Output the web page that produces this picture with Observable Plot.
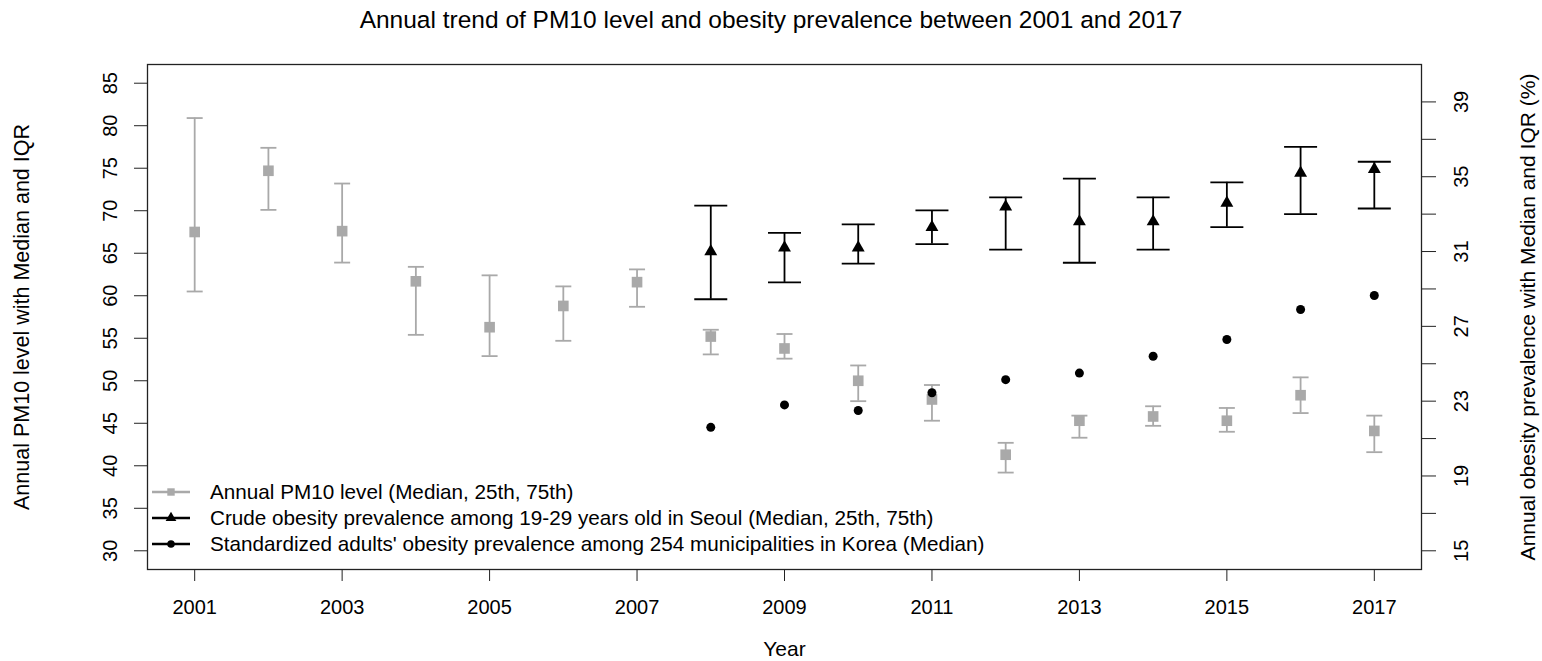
<!DOCTYPE html>
<html>
<head>
<meta charset="utf-8">
<script src="https://cdn.jsdelivr.net/npm/d3@7"></script>
<script src="https://cdn.jsdelivr.net/npm/@observablehq/plot@0.6"></script>
<style>
  body { margin: 0; background: #fff; font-family: "Liberation Sans", Arial, sans-serif; }
  #wrap { position: relative; width: 1542px; height: 661px; }
  #title { height: 40px; line-height: 40px; text-align: center; font-size: 24.5px; color: #000; white-space: nowrap; }
  #legend { position: absolute; left: 140px; top: 478px; }
</style>
</head>
<body>
<div id="wrap">
  <div id="title">Annual trend of PM10 level and obesity prevalence between 2001 and 2017</div>
  <div id="chart"></div>
  <div id="legend"></div>
</div>
<script>
// ---- data ----
const years = [2001, 2002, 2003, 2004, 2005, 2006, 2007, 2008, 2009, 2010, 2011, 2012, 2013, 2014, 2015, 2016, 2017];
const pm10Median = [67.5, 74.7, 67.6, 61.7, 56.3, 58.8, 61.6, 55.2, 53.8, 50.0, 47.8, 41.3, 45.3, 45.8, 45.3, 48.3, 44.1];
const pm10P75    = [80.9, 77.4, 73.2, 63.4, 62.4, 61.1, 63.1, 56.0, 55.5, 51.8, 49.5, 42.7, 45.9, 47.0, 46.8, 50.4, 45.9];
const pm10P25    = [60.5, 70.1, 63.9, 55.4, 52.9, 54.7, 58.7, 53.1, 52.6, 47.6, 45.3, 39.2, 43.3, 44.7, 44.0, 46.2, 41.6];

const obesityYears = [2008, 2009, 2010, 2011, 2012, 2013, 2014, 2015, 2016, 2017];
const crudeMedian = [31.0, 31.2, 31.2, 32.3, 33.4, 32.6, 32.6, 33.6, 35.2, 35.4];
const crudeP75    = [33.45, 32.0, 32.45, 33.2, 33.9, 34.9, 33.9, 34.7, 36.6, 35.8];
const crudeP25    = [28.45, 29.35, 30.35, 31.4, 31.1, 30.4, 31.1, 32.3, 33.0, 33.3];
const standardizedMedian = [21.6, 22.8, 22.5, 23.45, 24.15, 24.5, 25.4, 26.3, 27.9, 28.65];

const xTicks = [2001, 2003, 2005, 2007, 2009, 2011, 2013, 2015, 2017];
const leftTicks = [30, 35, 40, 45, 50, 55, 60, 65, 70, 75, 80, 85];
const rightTicks = [15, 17, 19, 21, 23, 25, 27, 29, 31, 33, 35, 37, 39];
const rightLabels = [15, 19, 23, 27, 31, 35, 39];

const legendLabels = [
  "Annual PM10 level (Median, 25th, 75th)",
  "Crude obesity prevalence among 19-29 years old in Seoul (Median, 25th, 75th)",
  "Standardized adults' obesity prevalence among 254 municipalities in Korea (Median)"
];

// ---- axis ranges (R style: 4% padding) ----
const leftRange = [30, 85];
const rightRange = [15, 40];
const pad = (r) => [r[0] - 0.04 * (r[1] - r[0]), r[1] + 0.04 * (r[1] - r[0])];
const xRange = [2001, 2017];
// map right-axis values onto the left scale
const k = (leftRange[1] - leftRange[0]) / (rightRange[1] - rightRange[0]);
const toLeft = (v) => leftRange[0] + (v - rightRange[0]) * k;
const fromLeft = (v) => rightRange[0] + (v - leftRange[0]) / k;

const gray = "#A9A9A9";
const black = "#000000";

const pm10 = years.map((year, i) => ({year, med: pm10Median[i], lo: pm10P25[i], hi: pm10P75[i]}));
const crude = obesityYears.map((year, i) => ({year, med: toLeft(crudeMedian[i]), lo: toLeft(crudeP25[i]), hi: toLeft(crudeP75[i])}));
const stdz = obesityYears.map((year, i) => ({year, med: toLeft(standardizedMedian[i])}));

const cap = { draw(ctx, size) { const h = Math.sqrt(size / Math.PI); ctx.moveTo(-h, 0); ctx.lineTo(h, 0); } };

const chart = Plot.plot({
  width: 1542,
  height: 621,
  marginTop: 24,
  marginBottom: 92,
  marginLeft: 147,
  marginRight: 121,
  style: { fontFamily: '"Liberation Sans", Arial, sans-serif', fontSize: "20px", color: "#000", background: "#fff" },
  x: { domain: pad(xRange) },
  y: { domain: pad(leftRange) },
  marks: [
    Plot.frame({ stroke: "#222", strokeWidth: 1.3 }),
    Plot.axisX(xTicks, { tickSize: 12, tickPadding: 18, tickFormat: "d", label: null, stroke: "#222" }),
    Plot.axisY(leftTicks, { anchor: "left", tickSize: 13, tickPadding: 18, tickRotate: -90, label: null, stroke: "#222" }),
    Plot.axisY(rightTicks.map(toLeft), {
      anchor: "right", tickSize: 14, tickPadding: 18, tickRotate: -90, lineAnchor: "top", label: null, stroke: "#222",
      tickFormat: (d) => { const v = Math.round(fromLeft(d)); return rightLabels.includes(v) ? String(v) : ""; }
    }),
    Plot.text(["Year"], { frameAnchor: "bottom", dy: 72, lineAnchor: "top", textAnchor: "middle", fontSize: 21 }),
    Plot.text(["Annual PM10 level with Median and IQR"], { frameAnchor: "left", dx: -125, rotate: -90, textAnchor: "middle", lineAnchor: "middle", fontSize: 21.5 }),
    Plot.text(["Annual obesity prevalence with Median and IQR (%)"], { frameAnchor: "right", dx: 107, rotate: -90, textAnchor: "middle", lineAnchor: "middle", fontSize: 21 }),

    // PM10 (gray)
    Plot.ruleX(pm10, { x: "year", y1: "lo", y2: "hi", stroke: gray, strokeWidth: 1.8 }),
    Plot.dot(pm10, { x: "year", y: "lo", symbol: cap, r: 8, stroke: gray, strokeWidth: 1.8, fill: "none" }),
    Plot.dot(pm10, { x: "year", y: "hi", symbol: cap, r: 8, stroke: gray, strokeWidth: 1.8, fill: "none" }),
    Plot.dot(pm10, { x: "year", y: "med", symbol: "square", r: 6, fill: gray, stroke: "none" }),

    // Crude obesity (black, triangles)
    Plot.ruleX(crude, { x: "year", y1: "lo", y2: "hi", stroke: black, strokeWidth: 1.8 }),
    Plot.dot(crude, { x: "year", y: "lo", symbol: cap, r: 16.5, stroke: black, strokeWidth: 1.8, fill: "none" }),
    Plot.dot(crude, { x: "year", y: "hi", symbol: cap, r: 16.5, stroke: black, strokeWidth: 1.8, fill: "none" }),
    Plot.dot(crude, { x: "year", y: "med", symbol: "triangle", r: 4.8, fill: black, stroke: "none" }),

    // Standardized obesity (black dots)
    Plot.dot(stdz, { x: "year", y: "med", r: 4.5, fill: black, stroke: "none" })
  ]
});
document.getElementById("chart").appendChild(chart);

// ---- legend (inside plot, bottom-left) ----
const lg = d3.select("#legend").append("svg").attr("width", 900).attr("height", 80)
  .style("font-family", '"Liberation Sans", Arial, sans-serif').style("font-size", "20.7px");
const rowsY = [14, 40, 66];
const styles = [
  { color: gray, width: 2.6, sym: d3.symbolSquare, size: 55 },
  { color: black, width: 2.6, sym: d3.symbolTriangle, size: 50 },
  { color: black, width: 2.6, sym: d3.symbolCircle, size: 45 }
];
legendLabels.forEach((t, i) => {
  const y = rowsY[i], s = styles[i];
  lg.append("line").attr("x1", 12).attr("x2", 50).attr("y1", y).attr("y2", y).attr("stroke", s.color).attr("stroke-width", s.width);
  lg.append("path").attr("d", d3.symbol(s.sym, s.size)()).attr("transform", `translate(31,${y})`).attr("fill", s.color);
  lg.append("text").attr("x", 70).attr("y", y).attr("dy", "0.35em").attr("fill", "#000").text(t);
});
</script>
</body>
</html>
